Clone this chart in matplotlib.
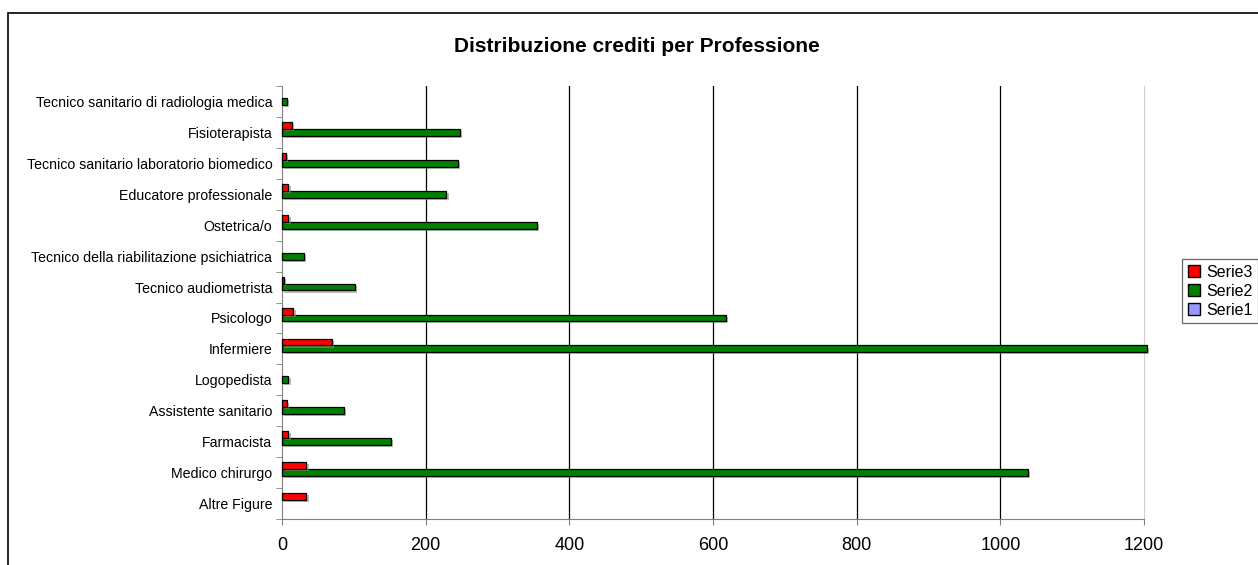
import numpy as np
import matplotlib
matplotlib.use("Agg")
import matplotlib.pyplot as plt
import matplotlib.patheffects as pe
from matplotlib.patches import Patch, Rectangle

plt.rcParams['font.family'] = ['Liberation Sans', 'DejaVu Sans']

# categories, bottom to top as drawn
categories = ['Altre Figure', 'Medico chirurgo', 'Farmacista', 'Assistente sanitario',
              'Logopedista', 'Infermiere', 'Psicologo', 'Tecnico audiometrista',
              'Tecnico della riabilitazione psichiatrica', 'Ostetrica/o',
              'Educatore professionale', 'Tecnico sanitario laboratorio biomedico',
              'Fisioterapista', 'Tecnico sanitario di radiologia medica']
serie1 = [0, 0, 0, 0, 0, 0, 0, 0, 0, 0, 0, 0, 0, 0]
serie2 = [0, 1038, 152, 86, 9, 1204, 618, 101, 31, 355, 229, 245, 248, 7]
serie3 = [34, 34, 9, 7, 0, 70, 16, 3, 0, 9, 9, 5, 14, 0]
series_names = ['Serie1', 'Serie2', 'Serie3']
series_colors = ['#9999FF', '#008000', '#FF0000']
x_ticks = [0, 200, 400, 600, 800, 1000, 1200]

W, H = 1258, 565
fig = plt.figure(figsize=(W / 100, H / 100), dpi=100)
ax = fig.add_axes([282 / W, 1 - 519 / H, (1144 - 282) / W, (519 - 86) / H])

# outer chart border (runs off the right and bottom of the picture)
fig.add_artist(Rectangle((8 / W, -0.1), 1.2, 1.1 - 13 / H, transform=fig.transFigure,
                         fill=False, edgecolor='black', linewidth=1.2))

y = np.arange(len(categories))
bh = 1 / 4.5  # Excel gap width 150%
shadow = [pe.SimplePatchShadow(offset=(1.5, -1.5), shadow_rgbFace='0.55', alpha=0.6), pe.Normal()]
for k, vals in enumerate([serie1, serie2, serie3]):
    if not any(vals):
        continue
    bars = ax.barh(y + (k - 1) * bh, vals, height=bh, color=series_colors[k],
                   edgecolor='black', linewidth=0.9, zorder=3)
    for b in bars:
        b.set_clip_on(False)
        if b.get_width() > 0:
            b.set_path_effects(shadow)
        else:
            b.set_visible(False)

ax.set_xlim(0, 1200)
ax.set_ylim(-0.5, len(categories) - 0.5)
ax.set_xticks(x_ticks)
ax.set_xticklabels([str(t) for t in x_ticks], fontsize=13)
ax.set_yticks(y)
ax.set_yticklabels(categories, fontsize=10.2)
ax.set_yticks(np.arange(len(categories) + 1) - 0.5, minor=True)
ax.tick_params(axis='y', which='major', length=0, pad=7)
ax.tick_params(axis='y', which='minor', length=4, color='#808080')
ax.tick_params(axis='x', length=4, color='#808080', pad=9)

ax.xaxis.grid(True, color='black', linewidth=0.9, zorder=0)
ax.set_axisbelow(True)
ax.get_xgridlines()[-1].set_visible(False)
ax.get_xgridlines()[0].set_visible(False)

ax.spines['top'].set_visible(False)
ax.spines['right'].set_color('#d0d0d0')
ax.spines['left'].set_color('#808080')
ax.spines['bottom'].set_color('#808080')

fig.text(637 / W, 1 - 46 / H, 'Distribuzione crediti per Professione',
         ha='center', va='center', fontsize=15, fontweight='bold')

handles = [Patch(facecolor=series_colors[k], edgecolor='black', label=series_names[k])
           for k in (2, 1, 0)]
leg = fig.legend(handles=handles, loc='upper left', bbox_to_anchor=(1182 / W, 1 - 259 / H),
                 fontsize=11.5, frameon=True, fancybox=False, handlelength=0.75,
                 handleheight=0.75, handletextpad=0.4, labelspacing=0.25,
                 borderpad=0.35, borderaxespad=0)
leg.get_frame().set_edgecolor('#404040')
leg.get_frame().set_linewidth(0.9)

fig.savefig('out.png', dpi=100)
